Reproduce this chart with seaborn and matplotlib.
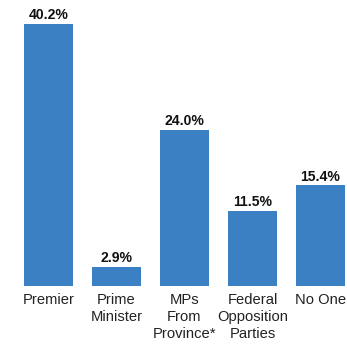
import matplotlib
matplotlib.use("Agg")
import matplotlib.pyplot as plt
import seaborn as sns
import pandas as pd

categories = ["Premier", "Prime\nMinister", "MPs\nFrom\nProvince*", "Federal\nOpposition\nParties", "No One"]
values = [40.2, 2.9, 24.0, 11.5, 15.4]

sns.set_theme(style="white")
plt.rcParams["font.family"] = ["Liberation Sans", "DejaVu Sans"]

df = pd.DataFrame({"group": categories, "pct": values})

fig = plt.figure(figsize=(3.47, 3.45), dpi=100)
ax = fig.add_axes([24 / 347, (345 - 285.7) / 345, (345 - 24) / 347, 285.7 / 345])

sns.barplot(data=df, x="group", y="pct", color="#3b80c3", saturation=1,
            width=0.72, linewidth=0, ax=ax)

ax.set_xlim(-0.36, 4.36)
ax.set_ylim(0, 43.9)

for cont in ax.containers:
    ax.bar_label(cont, labels=[f"{v:.1f}%" for v in values], padding=1.2,
                 fontsize=10.1, fontweight="bold", color="#111111")

ax.set_xlabel("")
ax.set_ylabel("")
ax.set_yticks([])
ax.tick_params(axis="x", length=0, pad=5.5, labelsize=10.6, colors="#222222")
for lbl in ax.get_xticklabels():
    lbl.set_linespacing(1.28)
for s in ax.spines.values():
    s.set_visible(False)

fig.savefig("out.png", dpi=100)
